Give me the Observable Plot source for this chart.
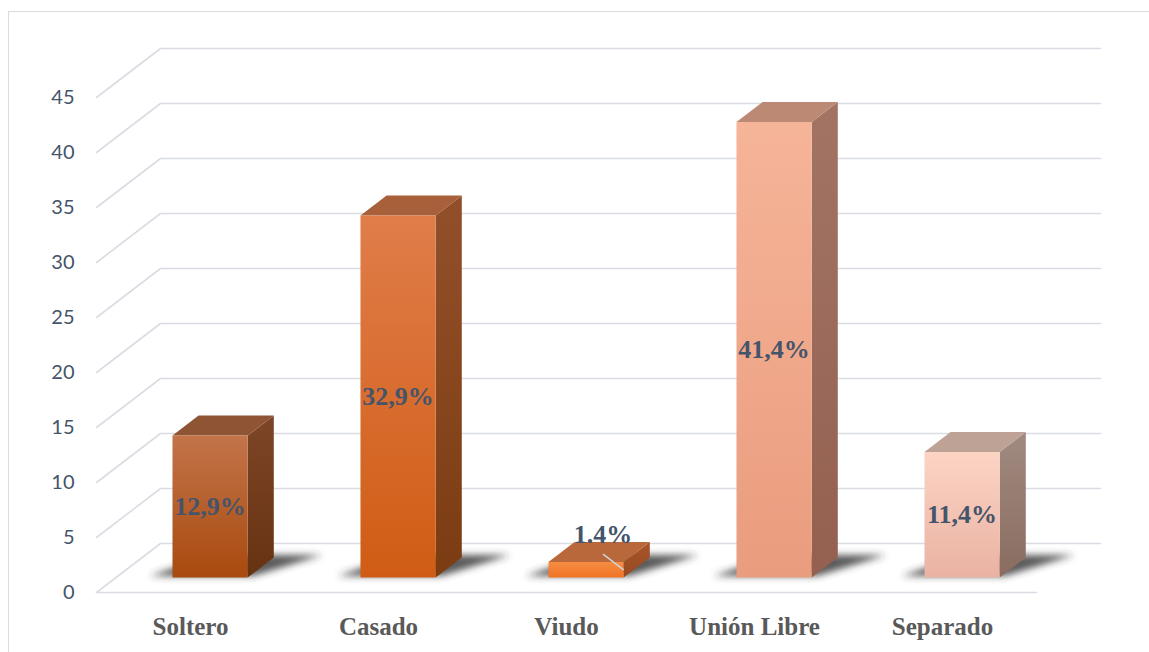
<!DOCTYPE html>
<html><head><meta charset="utf-8">
<script src="https://cdn.jsdelivr.net/npm/d3@7"></script>
<script src="https://cdn.jsdelivr.net/npm/@observablehq/plot@0.6"></script>
<style>
html,body{margin:0;padding:0;background:#fff;overflow:hidden;width:1149px;height:652px}
#frame{position:absolute;left:8px;top:11px;width:1200px;height:700px;border:1.5px solid #d9dce1;box-sizing:border-box}
#chart{position:absolute;left:0;top:0}
</style></head><body><div id="frame"></div><div id="chart"></div>
<script>
// ---- data ----
const categories = ["Soltero", "Casado", "Viudo", "Unión Libre", "Separado"];
const values = [12.9, 32.9, 1.4, 41.4, 11.4];
const valueLabels = ["12,9%", "32,9%", "1.4%", "41,4%", "11,4%"];
const yTicks = [0, 5, 10, 15, 20, 25, 30, 35, 40, 45];
// colours: front [top,bottom], side [top,bottom], top face
const frontColors = [["#c3744a", "#a84a0e"], ["#e07d4a", "#d05c14"], ["#f68c44", "#f07424"], ["#f6b498", "#ea9c7e"], ["#fcd4c4", "#eab2a2"]];
const sideColors = [["#7e4628", "#663210"], ["#92502a", "#7c3c12"], ["#a8552a", "#984a20"], ["#a27464", "#946050"], ["#a08a80", "#8a6c60"]];
const topColors = ["#8e5434", "#a8603a", "#b8683a", "#bc8a74", "#bea296"];

// ---- 3D geometry (depth offsets expressed in scale units) ----
const PXX = 188, PXY = 11;               // pixels per scale unit (x, y)
const DX = 64 / PXX, DY = 49 / PXY;      // depth direction
const HW = 0.2, D0 = 0.306, D1 = 0.714;  // bar half width, front/back plane depth
const P = (i, v, d) => ({x: i + DX * d, y: v + DY * d});

const marks = [];
marks.push(() => {
  const defs = d3.create("svg:defs");
  const f = defs.append("filter").attr("id", "blur").attr("x", "-50%").attr("y", "-50%").attr("width", "200%").attr("height", "200%");
  f.append("feGaussianBlur").attr("stdDeviation", 3.5);
  const add = (id, c) => {
    const g = defs.append("linearGradient").attr("id", id).attr("x1", 0).attr("y1", 0).attr("x2", 0).attr("y2", 1);
    g.append("stop").attr("offset", "0%").attr("stop-color", c[0]);
    g.append("stop").attr("offset", "100%").attr("stop-color", c[1]);
  };
  frontColors.forEach((c, i) => add("front" + i, c));
  sideColors.forEach((c, i) => add("side" + i, c));
  return defs.node();
});

// gridlines: diagonal on the left wall + horizontal on the back wall
const grid = [];
yTicks.forEach(t => {
  grid.push({t, ...P(-0.5, t, 0)}, {t, ...P(-0.5, t, 1)}, {t, ...P(4.5, t, 1)});
});
marks.push(Plot.line(grid, {x: "x", y: "y", z: "t", stroke: "#d9dde3", strokeWidth: 1.6}));
marks.push(Plot.line([P(-0.5, 0, 0), P(4.5, 0, 0)], {x: "x", y: "y", stroke: "#d9dde3", strokeWidth: 1.6}));

// shadows
values.forEach((v, i) => {
  const pts = [P(i - HW - 0.13, 0, D0 + 0.03), P(i + HW + 0.02, 0, D0 + 0.03), P(i + HW + 0.24, 0, D1 + 0.05), P(i - HW + 0.05, 0, D1 + 0.05)];
  marks.push(Plot.line(pts, {x: "x", y: "y", fill: "#2e2e2e", fillOpacity: 0.8, stroke: "none", curve: "linear-closed", ariaDescription: "shadow"}));
});

// bars
values.forEach((v, i) => {
  const side = [P(i + HW, 0, D0), P(i + HW, 0, D1), P(i + HW, v, D1), P(i + HW, v, D0)];
  const top = [P(i - HW, v, D0), P(i + HW, v, D0), P(i + HW, v, D1), P(i - HW, v, D1)];
  const front = [P(i - HW, 0, D0), P(i + HW, 0, D0), P(i + HW, v, D0), P(i - HW, v, D0)];
  marks.push(Plot.line(side, {x: "x", y: "y", fill: `url(#side${i})`, stroke: "none", curve: "linear-closed"}));
  marks.push(Plot.line(top, {x: "x", y: "y", fill: topColors[i], stroke: "none", curve: "linear-closed"}));
  marks.push(Plot.line(front, {x: "x", y: "y", fill: `url(#front${i})`, stroke: "none", curve: "linear-closed"}));
});

// value labels (inside bar, or above it with a leader line when the bar is too short)
const labelData = values.map((v, i) => {
  const small = v < 5;
  const p = small ? P(i, v, D0) : P(i, v / 2, D0);
  if (small) { p.x += 17 / PXX; p.y += 27 / PXY; }
  return {...p, text: valueLabels[i], small, i, v};
});
const leaders = labelData.filter(d => d.small).map(d => {
  const end = P(d.i + HW, d.v / 2, D0);
  return {x1: d.x, y1: d.y - 19 / PXY, x2: end.x, y2: end.y};
});
marks.push(Plot.link(leaders, {x1: "x1", y1: "y1", x2: "x2", y2: "y2", stroke: "#cfd3da", strokeWidth: 1.5}));
marks.push(Plot.text(labelData, {
  x: "x", y: "y", text: "text",
  fontFamily: "Liberation Serif", fontWeight: "bold", fontSize: 26, fill: "#44546a"
}));

// y tick labels
marks.push(Plot.text(yTicks, {x: -0.5, y: d => d, text: d => String(d), textAnchor: "end", dx: -22, fontFamily: "Lato", fontSize: 20, fill: "#44546a"}));
// category labels
marks.push(Plot.text(categories, {x: (d, i) => i, y: 0, text: d => d, dy: 34, fontFamily: "Liberation Serif", fontWeight: "bold", fontSize: 25, fill: "#595959"}));

const chart = Plot.plot({
  width: 1149, height: 652,
  margin: 0,
  x: {type: "linear", domain: [0, 4], range: [190, 942], axis: null},
  y: {type: "linear", domain: [0, 45], range: [592, 97], axis: null},
  style: {background: "transparent", overflow: "visible"},
  marks
});
d3.select(chart).selectAll('g[aria-description="shadow"]').attr("filter", "url(#blur)");
document.getElementById("chart").appendChild(chart);
</script></body></html>
